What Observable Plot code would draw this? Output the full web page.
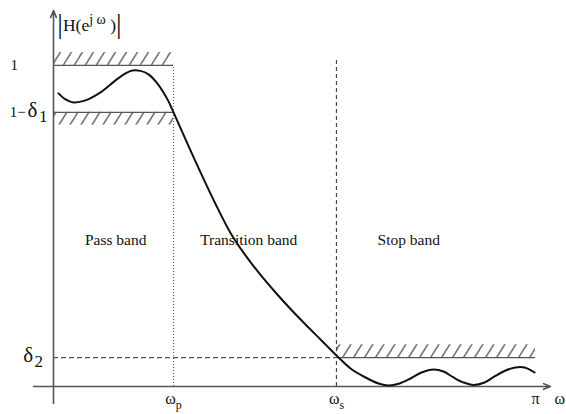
<!DOCTYPE html>
<html><head><meta charset="utf-8">
<script src="https://cdn.jsdelivr.net/npm/d3@7"></script>
<script src="https://cdn.jsdelivr.net/npm/@observablehq/plot@0.6"></script>
<style>body{margin:0;background:#fff} svg{display:block}</style>
</head><body><div id="chart"></div>
<script>
// frequency ω expressed as a fraction of π; magnitude |H(e^jω)|
const curveOmega = [0.0104,0.0249,0.0415,0.0664,0.0975,0.1286,0.1494,0.1639,0.1805,0.1971,0.2137,0.2282,0.2386,0.249,
  0.2739,0.305,0.3361,0.3672,0.3983,0.4295,0.4606,0.4917,0.5228,0.5539,0.5892,0.6162,0.6473,0.6743,
  0.695,0.7178,0.7407,0.7635,0.7884,0.8091,0.8299,0.8506,0.8714,0.8942,0.9149,0.9378,0.9585,0.9772,0.998];
const curveMag = [0.9128,0.8941,0.8847,0.8910,0.9159,0.9533,0.9751,0.9844,0.9829,0.9720,0.9470,0.9159,0.8879,0.8536,
  0.7695,0.6667,0.5685,0.4782,0.4081,0.3474,0.2928,0.2414,0.1931,0.1464,0.0935,0.0561,0.028,0.0093,
  0.003,0.0093,0.0249,0.0436,0.053,0.0467,0.028,0.0125,0.0047,0.0125,0.0312,0.0498,0.0592,0.0592,0.0436];

const omegaP = 0.249, omegaS = 0.587, omegaPi = 1;
const passTop = 1, passBottom = 0.854, stopTop = 0.090;
const hatchDepth = 0.04;
const omegaSLineTop = 1.02;

const xTickValues = [omegaP, omegaS, omegaPi];
const xTickLabels = ["ω_p", "ω_s", "π"];
const yTickValues = [passTop, passBottom, stopTop];
const yTickLabels = ["1", "1−δ_1", "δ_2"];
const yTickLabelX = [-0.089, -0.091, -0.063];

const bandNames = ["Pass band", "Transition band", "Stop band"];
const bandLabelX = [0.129, 0.405, 0.737];
const bandLabelY = 0.455;

const xDomain = [-0.0415, 1.031];
const yDomain = [-0.053, 1.171];

const curve = curveOmega.map((w, i) => ({w, m: curveMag[i]}));
const hatchBands = [
  {x1: 0, x2: omegaP, y1: passTop, y2: passTop + hatchDepth},
  {x1: 0, x2: omegaP, y1: passBottom - hatchDepth, y2: passBottom},
  {x1: omegaS, x2: omegaPi, y1: stopTop, y2: stopTop + hatchDepth}
];
const axisArrows = [
  {x1: 0, y1: yDomain[0], x2: 0, y2: yDomain[1]},
  {x1: xDomain[0], y1: 0, x2: xDomain[1], y2: 0}
];
const xTicks = xTickValues.map((v, i) => ({v, label: xTickLabels[i]}));
const yTicks = yTickValues.map((v, i) => ({v, label: yTickLabels[i], x: yTickLabelX[i]}));
const bands = bandNames.map((n, i) => ({n, x: bandLabelX[i]}));

const axisColor = "#555";
const chart = Plot.plot({
  width: 566, height: 414,
  marginLeft: 33, marginRight: 16, marginTop: 10, marginBottom: 11,
  x: {domain: xDomain, axis: null},
  y: {domain: yDomain, axis: null},
  style: {fontFamily: "'Liberation Serif', serif", background: "#fff", color: "#222"},
  marks: [
    Plot.rect(hatchBands, {x1: "x1", x2: "x2", y1: "y1", y2: "y2", fill: "url(#hatch)"}),
    Plot.ruleY([passTop, passBottom], {x1: 0, x2: omegaP, stroke: axisColor, strokeWidth: 1.3}),
    Plot.ruleX([omegaP], {y1: 0, y2: passTop, stroke: "#666", strokeWidth: 1.2, strokeDasharray: "1,2"}),
    Plot.ruleX([omegaS], {y1: 0, y2: omegaSLineTop, stroke: "#444", strokeWidth: 1.2, strokeDasharray: "4,3"}),
    Plot.ruleY([stopTop], {x1: 0, x2: omegaS, stroke: "#555", strokeWidth: 1.2, strokeDasharray: "5,3"}),
    Plot.ruleY([stopTop], {x1: omegaS, x2: omegaPi, stroke: axisColor, strokeWidth: 1.3}),
    Plot.arrow(axisArrows, {x1: "x1", y1: "y1", x2: "x2", y2: "y2", stroke: axisColor, strokeWidth: 1.6, headLength: 7, headAngle: 45}),
    Plot.line(curve, {x: "w", y: "m", curve: "catmull-rom", stroke: "#111", strokeWidth: 2}),
    Plot.text(xTicks, {x: "v", y: -0.04, text: "label", fontSize: 16, fill: "#111"}),
    Plot.text(["ω"], {x: xDomain[1], y: -0.04, dx: 4, text: d => d, textAnchor: "start", fontSize: 16, fill: "#111"}),
    Plot.text(yTicks, {x: "x", y: "v", text: "label", textAnchor: "start", fontSize: 15, fill: "#111"}),
    Plot.text(bands, {x: "x", y: bandLabelY, text: "n", fontSize: 15.5, fill: "#111"}),
    Plot.text(["|H(e^jω)|"], {x: 0.008, y: 1.125, text: d => d, textAnchor: "start", fontSize: 17.5, fill: "#111"})
  ]
});

chart.insertAdjacentHTML("afterbegin",
  '<defs><pattern id="hatch" patternUnits="userSpaceOnUse" width="11" height="13" patternTransform="skewX(-32)">' +
  '<line x1="5" y1="-2" x2="5" y2="15" stroke="#333" stroke-width="1.3"/></pattern></defs>');

// rich text: subscripts and superscripts
d3.select(chart).selectAll("text").each(function () {
  const t = this.textContent;
  if (t === "|H(e^jω)|") {
    this.innerHTML = '<tspan font-size="28" dy="2">|</tspan><tspan dy="-2">H(e</tspan><tspan dy="-7" font-size="14">j ω</tspan><tspan dy="7"> )</tspan><tspan font-size="28" dy="2">|</tspan>';
  } else if (t.includes("_")) {
    const [a, b] = t.split("_");
    const big = a.endsWith("δ");
    this.innerHTML = (big ? a.slice(0, -1) + '<tspan font-size="21" dx="' + (a.length > 1 ? 2 : 0) + '">δ</tspan>' : a) +
      '<tspan dy="5" dx="' + (big ? 1.5 : 0) + '" font-size="' + (big ? 17 : 12) + '">' + b + '</tspan>';
  }
});

document.getElementById("chart").appendChild(chart);
</script>
</body></html>
